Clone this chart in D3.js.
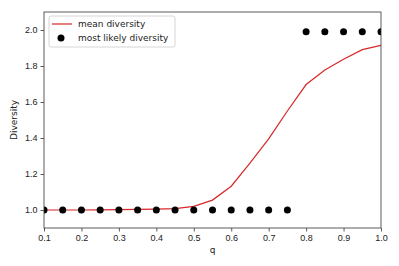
<!DOCTYPE html>
<html>
<head>
<meta charset="utf-8">
<style>
  body { margin: 0; background: #fff; }
  svg { font-family: 'DejaVu Sans', sans-serif; }
</style>
</head>
<body>
<svg width="399" height="266"></svg>
<script src="https://d3js.org/d3.v7.min.js"></script>
<script>
  // data
  let qValues = [0.1, 0.15, 0.2, 0.25, 0.3, 0.35, 0.4, 0.45, 0.5, 0.55, 0.6, 0.65, 0.7, 0.75, 0.8, 0.85, 0.9, 0.95, 1.0];
  let meanDiversity = [1.0, 1.0, 1.0, 1.001, 1.002, 1.003, 1.005, 1.008, 1.02, 1.055, 1.132, 1.26, 1.395, 1.55, 1.697, 1.778, 1.837, 1.891, 1.915];
  let likelyDiversity = [1, 1, 1, 1, 1, 1, 1, 1, 1, 1, 1, 1, 1, 1, 1.99, 1.99, 1.99, 1.99, 1.99];
  let xTicks = [0.1, 0.2, 0.3, 0.4, 0.5, 0.6, 0.7, 0.8, 0.9, 1.0];
  let yTicks = [1.0, 1.2, 1.4, 1.6, 1.8, 2.0];

  let mLeft = 44, mRight = 381, mTop = 12, mBottom = 228;
  let fontSize = "9px";
  let svg = d3.select("svg");

  let x = d3.scaleLinear().domain([0.1, 1.0]).range([mLeft, mRight]);
  let y = d3.scaleLinear().domain([0.9, 2.1]).range([mBottom, mTop]);

  svg.append("clipPath").attr("id", "clip")
    .append("rect")
    .attr("x", mLeft).attr("y", mTop)
    .attr("width", mRight - mLeft).attr("height", mBottom - mTop);

  let plot = svg.append("g").attr("clip-path", "url(#clip)");

  let line = d3.line()
    .x((d, i) => x(qValues[i]))
    .y(d => y(d));

  plot.append("path")
    .datum(meanDiversity)
    .attr("d", line)
    .style("fill", "none")
    .style("stroke", "#d62728")
    .style("stroke-width", 1.2);

  plot.selectAll("circle")
    .data(likelyDiversity)
    .join("circle")
    .attr("cx", (d, i) => x(qValues[i]))
    .attr("cy", d => y(d))
    .attr("r", 3.5)
    .style("fill", "black");

  // axes
  let xAxis = svg.append("g")
    .attr("transform", `translate(0,${mBottom})`)
    .call(d3.axisBottom(x).tickValues(xTicks).tickFormat(d3.format(".1f")).tickSizeOuter(0).tickSize(3.5).tickPadding(3));
  let yAxis = svg.append("g")
    .attr("transform", `translate(${mLeft},0)`)
    .call(d3.axisLeft(y).tickValues(yTicks).tickFormat(d3.format(".1f")).tickSizeOuter(0).tickSize(3.5).tickPadding(3));
  [xAxis, yAxis].forEach(a => {
    a.select(".domain").remove();
    a.selectAll("text").style("font-size", fontSize).style("fill", "#222");
    a.selectAll("line").style("stroke", "#333").style("stroke-width", 0.8);
  });

  // frame
  svg.append("rect")
    .attr("x", mLeft).attr("y", mTop)
    .attr("width", mRight - mLeft).attr("height", mBottom - mTop)
    .style("fill", "none").style("stroke", "#333").style("stroke-width", 0.8);

  svg.append("text")
    .attr("x", (mLeft + mRight) / 2).attr("y", 253)
    .attr("text-anchor", "middle")
    .style("font-size", fontSize).style("fill", "#222")
    .text("q");

  svg.append("text")
    .attr("transform", `translate(17,${(mTop + mBottom) / 2}) rotate(-90)`)
    .attr("text-anchor", "middle")
    .style("font-size", fontSize).style("fill", "#222")
    .text("Diversity");

  // legend
  let legend = svg.append("g").attr("transform", "translate(49,16)");
  legend.append("rect")
    .attr("width", 126).attr("height", 31).attr("rx", 2)
    .style("fill", "white").style("fill-opacity", 0.8)
    .style("stroke", "#ccc").style("stroke-width", 0.8);
  legend.append("line")
    .attr("x1", 3).attr("x2", 23).attr("y1", 8).attr("y2", 8)
    .style("stroke", "#d62728").style("stroke-width", 1.2);
  legend.append("circle")
    .attr("cx", 12).attr("cy", 22).attr("r", 3.5).style("fill", "black");
  legend.append("text").attr("x", 29).attr("y", 11)
    .style("font-size", fontSize).style("fill", "#222").text("mean diversity");
  legend.append("text").attr("x", 29).attr("y", 25)
    .style("font-size", fontSize).style("fill", "#222").text("most likely diversity");
</script>
</body>
</html>
